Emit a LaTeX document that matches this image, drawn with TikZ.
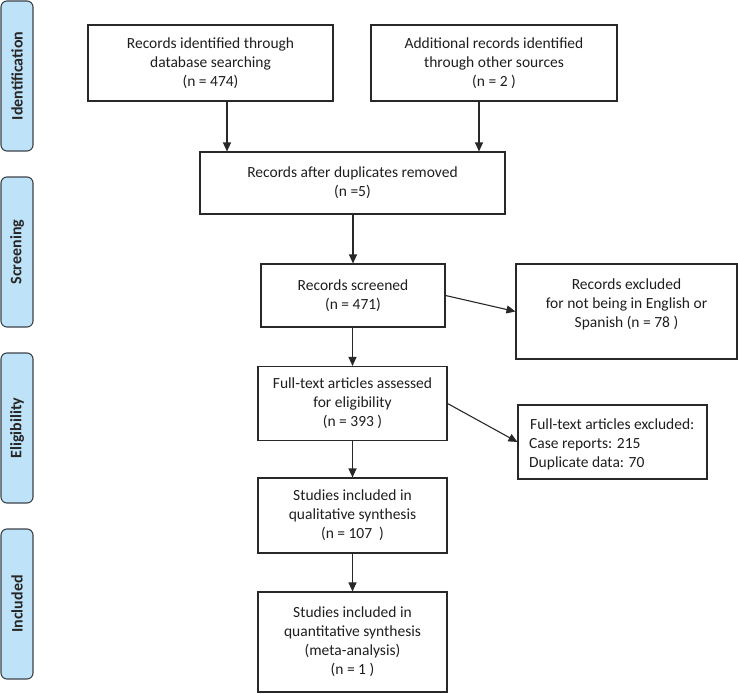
\documentclass[tikz,border=0pt]{standalone}
\usepackage{fontspec}
\setmainfont{Carlito}
\usetikzlibrary{arrows.meta,calc}
\definecolor{barfill}{RGB}{190,226,247}
\definecolor{barline}{RGB}{60,66,74}
\definecolor{lin}{RGB}{40,40,40}
\definecolor{txt}{RGB}{30,30,30}
\tikzset{
  box/.style={draw=lin, line width=1.1pt, rectangle, inner sep=0pt, align=center,
    text=txt, font=\fontsize{15.5}{19}\selectfont},
  bar/.style={draw=barline, fill=barfill, line width=1.1pt, rounded corners=6pt,
    minimum width=32pt, minimum height=150pt, inner sep=0pt},
  barlabel/.style={rotate=90, font=\bfseries\fontsize{16}{19}\selectfont, text=black!85},
  txtnode/.style={align=center, text=txt, font=\fontsize{15.5}{19}\selectfont, inner sep=0pt},
  arr/.style={draw=lin, line width=1.1pt, -{Triangle[length=9pt,width=8pt]}}
}
\begin{document}
\begin{tikzpicture}[x=1pt,y=-1pt]
\useasboundingbox (0,0) rectangle (738,693);
% side bars
\node[bar] (s1) at (17,76) {};
\node[barlabel] at (s1) {Identification};
\node[bar] (s2) at (17,252) {};
\node[barlabel] at (s2) {Screening};
\node[bar] (s3) at (17,428) {};
\node[barlabel] at (s3) {Eligibility};
\node[bar] (s4) at (17,604) {};
\node[barlabel] at (s4) {Included};
% boxes
\node[box, minimum width=245pt, minimum height=76pt] (b1) at (210.5,63)
  {Records identified through\\database searching\\(n = 474)};
\node[box, minimum width=246pt, minimum height=76pt] (b2) at (494,63)
  {Additional records identified\\through other sources\\(n = 2 )};
\node[box, minimum width=305pt, minimum height=62pt] (b3) at (352.5,183)
  {Records after duplicates removed\\(n =5)};
\node[box, minimum width=184pt, minimum height=63pt] (b4) at (353,295.5)
  {Records screened\\(n = 471)};
\node[box, minimum width=221pt, minimum height=95pt] (b5) at (626.5,311.5) {};
\node[txtnode] (t5) at (626.5,304)
  {Records excluded\\for not being in English or\\Spanish (n = 78 )};
\node[box, minimum width=189pt, minimum height=74pt] (b6) at (352.5,403.5)
  {Full-text articles assessed\\for eligibility\\(n = 393 )};
\node[box, minimum width=189pt, minimum height=74pt] (b7) at (612.5,442) {};
\node[txtnode, align=left, anchor=west] (t7) at (529,444)
  {\hspace*{1pt}Full-text articles excluded:\\Case reports: 215\\Duplicate data: 70};
\node[box, minimum width=189pt, minimum height=75pt] (b8) at (352.5,515.5)
  {Studies included in\\qualitative synthesis\\(n = 107~~)};
\node[box, minimum width=189pt, minimum height=100pt] (b9) at (352.5,642)
  {Studies included in\\quantitative synthesis\\(meta-analysis)\\(n = 1 )};
% arrows
\coordinate (a1) at (227,0);
\coordinate (a2) at (479,0);
\draw[arr] (a1 |- b1.south) -- (a1 |- b3.north);
\draw[arr] (a2 |- b2.south) -- (a2 |- b3.north);
\draw[arr] (b3.south -| b4.north) -- (b4.north);
\draw[arr] (b4.east) -- (b5.west);
\draw[arr] (b4.south -| b6.north) -- (b6.north);
\draw[arr] (b6.east) -- (b7.west);
\draw[arr] (b6.south) -- (b8.north);
\draw[arr] (b8.south) -- (b9.north);
\end{tikzpicture}
\end{document}
